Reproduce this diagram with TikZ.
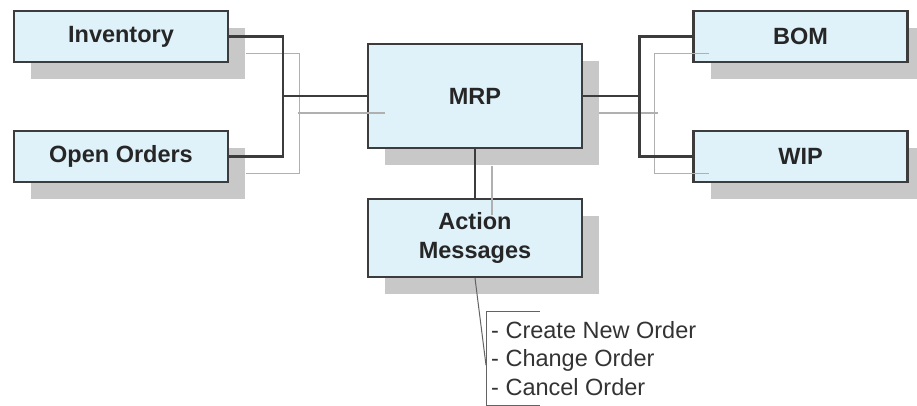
\documentclass[tikz,border=0pt]{standalone}
\usepackage{fontspec}
\setmainfont{Liberation Sans}
\usetikzlibrary{shadows}

\definecolor{boxfill}{HTML}{DFF1F9}
\definecolor{boxline}{HTML}{3C3C3C}
\definecolor{shade}{HTML}{C8C8C8}
\definecolor{ghost}{HTML}{B0B0B0}

\tikzset{
  unit/.style={draw=boxline, line width=2.2pt, fill=boxfill,
    minimum width=214pt, minimum height=51pt, inner sep=0pt,
    font=\fontsize{23.5}{29}\selectfont\bfseries, text=black!85, align=center,
    general shadow={fill=shade, shadow xshift=17pt, shadow yshift=-17pt}},
  link/.style={draw=boxline, line width=2.2pt},
  ghostlink/.style={draw=ghost, line width=1.2pt},
  callout/.style={draw=boxline!80, line width=1pt}
}

\begin{document}
\begin{tikzpicture}[x=1pt,y=-1pt]
\useasboundingbox (0,0) rectangle (917,406);

% boxes
\node[unit] (inv) at (121,36.5) {Inventory};
\node[unit] (opn) at (121,156.5) {Open Orders};
\node[unit, minimum height=104pt] (mrp) at (475,96) {MRP};
\node[unit] (bom) at (800.5,36.5) {BOM};
\node[unit] (wip) at (800.5,156.5) {WIP};
\node[unit, minimum height=78pt] (act) at (475,238) {Action\\Messages};

% light copies of the links
\draw[ghostlink] ([shift={(17,17)}]inv.east) -- ++(53,0) |- ([shift={(17,17)}]opn.east);
\draw[ghostlink] ([shift={(-69,0)}]mrp.west |- 0,113) -- ++(87,0);
\draw[ghostlink] ([shift={(17,17)}]bom.west) -- ++(-55,0) |- ([shift={(17,17)}]wip.west);
\draw[ghostlink] ([shift={(16,0)}]mrp.east |- 0,113) -- ++(59,0);
\draw[ghostlink] ([shift={(17,17)}]mrp.south) -- ([shift={(17,17)}]act.north);

% links
\draw[link] (inv.east) -- ++(54,0) |- (opn.east);
\draw[link] (mrp.west) -- ++(-85,0);
\draw[link] (bom.west) -- ++(-53,0) |- (wip.west);
\draw[link] (mrp.east) -- ++(58,0);
\draw[link] (mrp.south) -- (act.north);

% note
\node[anchor=north west, minimum height=94pt, inner xsep=5pt, inner ysep=0pt,
  align=left, text=black!80, font=\fontsize{23.5}{28.5}\selectfont] (msgs) at (486,311)
  {- Create New Order\\- Change Order\\- Cancel Order};
\draw[callout] ([xshift=54pt]msgs.north west) -- (msgs.north west) -- (msgs.south west) -- ++(54,0);
\draw[callout] (act.south) -- ([yshift=-7pt]msgs.west);
\end{tikzpicture}
\end{document}
